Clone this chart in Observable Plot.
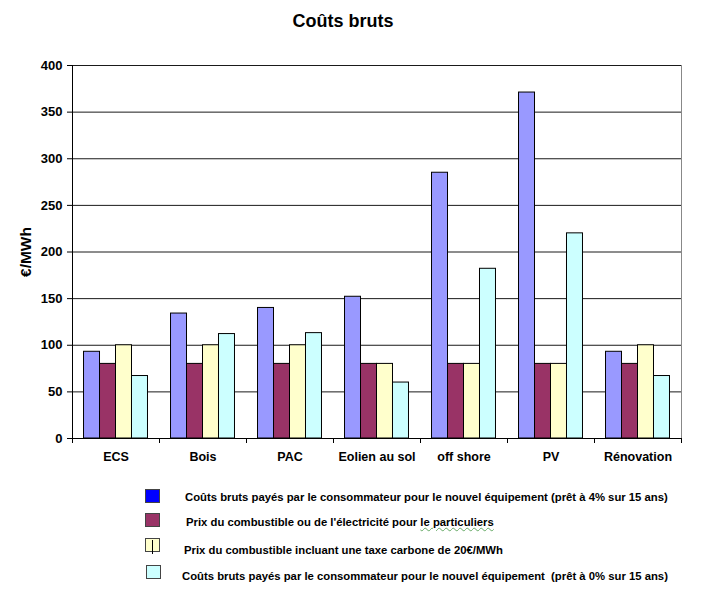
<!DOCTYPE html>
<html><head><meta charset="utf-8">
<script src="https://cdn.jsdelivr.net/npm/d3@7"></script>
<script src="https://cdn.jsdelivr.net/npm/@observablehq/plot@0.6"></script>
<style>
body{margin:0;background:#fff;font-family:"Liberation Sans",Arial,sans-serif;position:relative;width:709px;height:595px;overflow:hidden;}
#title{height:40px;width:686px;text-align:center;font-weight:bold;font-size:18px;line-height:42px;color:#000;}
.sw{position:absolute;width:15px;height:14px;border:1px solid #444;box-sizing:border-box;}
.lt{position:absolute;font-weight:bold;font-size:11.3px;color:#000;white-space:pre;line-height:14px;}
</style></head><body>
<div id="title">Coûts bruts</div>
<div id="chart"></div>
<div id="legend"></div>
<script>
const categories = ["ECS", "Bois", "PAC", "Eolien au sol", "off shore", "PV", "Rénovation"];
const seriesKeys = ["pret4", "combustible", "taxe", "pret0"];
const seriesLabels = [
  "Coûts bruts payés par le consommateur pour le nouvel équipement (prêt à 4% sur 15 ans)",
  "Prix du combustible ou de l'électricité pour le particuliers",
  "Prix du combustible incluant une taxe carbone de 20€/MWh",
  "Coûts bruts payés par le consommateur pour le nouvel équipement  (prêt à 0% sur 15 ans)"
];
const pret4 = [93, 134, 140, 152, 285, 371, 93];
const combustible = [80, 80, 80, 80, 80, 80, 80];
const taxe = [100, 100, 100, 80, 80, 80, 100];
const pret0 = [67, 112, 113, 60, 182, 220, 67];
const yTicks = [0, 50, 100, 150, 200, 250, 300, 350, 400];
const barColors = ["#9999FF", "#993366", "#FFFFCC", "#CCFFFF"];
const legendColors = ["#0000FF", "#993366", "#FFFFCC", "#CCFFFF"];

const valuesBySeries = {pret4, combustible, taxe, pret0};
const data = [];
categories.forEach((c, i) => seriesKeys.forEach(s => data.push({category: c, series: s, value: valuesBySeries[s][i]})));

const W = 709, H = 435, mL = 72, mR = 28;
const halfStep = (W - mL - mR) / categories.length / 2;

const chart = Plot.plot({
  width: W, height: H,
  marginTop: 25, marginBottom: 37, marginLeft: mL, marginRight: mR,
  style: {fontFamily: "Liberation Sans, Arial, sans-serif", fontWeight: "bold", fontSize: "13px", color: "#000", background: "#fff"},
  fx: {domain: categories, padding: 0, round: false, label: null},
  x: {domain: seriesKeys, paddingInner: 0, paddingOuter: 0.72, round: false, axis: null},
  y: {domain: [0, 400], label: null},
  color: {domain: seriesKeys, range: barColors},
  marks: [
    Plot.frame({anchor: "right", facetAnchor: "right", stroke: "#888"}),
    Plot.gridY(yTicks, {stroke: "#1a1a1a", strokeOpacity: 1, strokeWidth: 1}),
    Plot.barY(data, {fx: "category", x: "series", y: "value", fill: "series", stroke: "#000", strokeWidth: 1, inset: 0}),
    Plot.ruleY([0], {stroke: "#000", strokeWidth: 1}),
    Plot.frame({anchor: "left", facetAnchor: "left", stroke: "#000"}),
    Plot.axisY(yTicks, {tickSize: 5, tickPadding: 5, label: null, stroke: "#000", fontSize: 13}),
    Plot.axisY({ticks: [], label: "€/MWh", labelAnchor: "center", labelArrow: "none", labelOffset: 53, fontSize: 15.5}),
    Plot.axisFx({anchor: "bottom", tickSize: 0, tickPadding: 14, label: null, fontSize: 12.5}),
    Plot.axisFx({anchor: "bottom", tickSize: 5, text: null, label: null, dx: -halfStep, stroke: "#000"}),
    Plot.axisFx(categories.slice(-1), {anchor: "bottom", tickSize: 5, text: null, label: null, dx: halfStep, stroke: "#000"})
  ]
});
document.getElementById("chart").appendChild(chart);

// legend
const legend = document.getElementById("legend");
const swPos = [[145, 489], [145, 513], [145, 538], [146, 565]];
const txtPos = [[185, 490], [186, 515], [184, 543], [182, 569]];
seriesLabels.forEach((lab, i) => {
  const sw = document.createElement("div");
  sw.className = "sw";
  sw.style.left = swPos[i][0] + "px";
  sw.style.top = swPos[i][1] + "px";
  sw.style.background = legendColors[i];
  if (i === 2) {
    const bar = document.createElement("div");
    bar.style.cssText = "position:absolute;left:6px;top:1px;width:1px;height:14px;background:#000;";
    sw.appendChild(bar);
  }
  legend.appendChild(sw);
  const t = document.createElement("div");
  t.className = "lt";
  t.style.left = txtPos[i][0] + "px";
  t.style.top = txtPos[i][1] + "px";
  if (i === 1) {
    const idx = lab.lastIndexOf("le particuliers");
    t.textContent = lab.slice(0, idx);
    const u = document.createElement("span");
    u.textContent = "le particuliers";
    u.style.cssText = "text-decoration:underline wavy #6a6;text-decoration-thickness:1px;";
    t.appendChild(u);
  } else {
    t.textContent = lab;
  }
  legend.appendChild(t);
});
</script>
</body></html>
